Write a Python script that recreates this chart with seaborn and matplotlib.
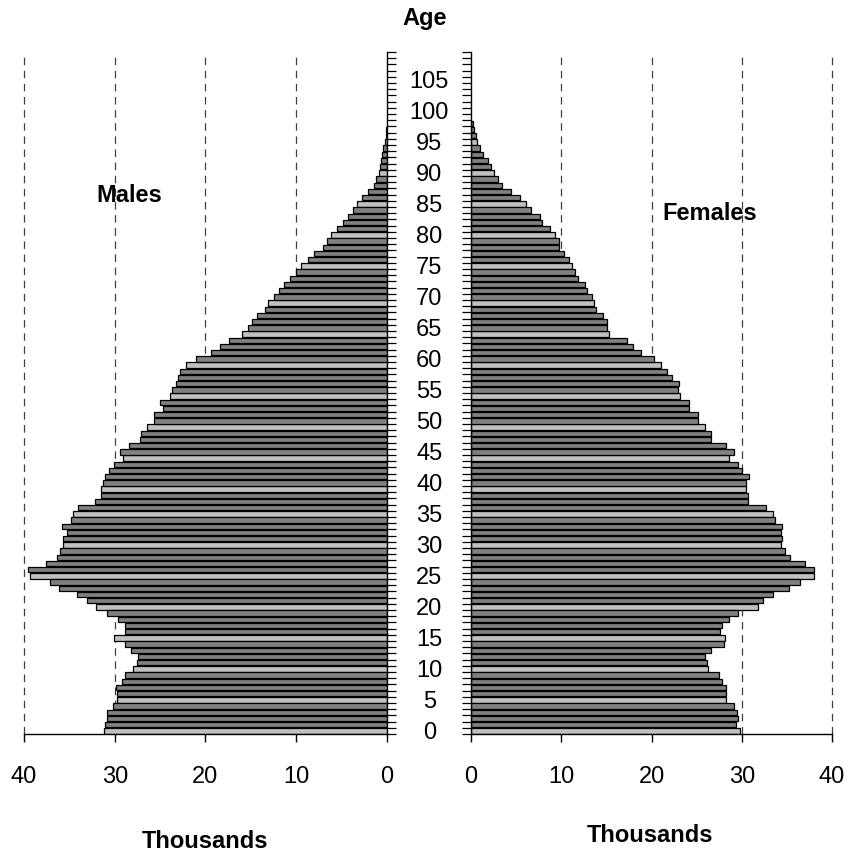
import numpy as np
import pandas as pd
import matplotlib
matplotlib.use("Agg")
import matplotlib.pyplot as plt
import seaborn as sns

# ---------------- data (thousands) ----------------
males = [31.2, 31.1, 30.9, 30.8, 30.2, 29.8, 29.8, 29.9, 29.2, 28.9,
         28.0, 27.6, 27.4, 28.2, 28.9, 30.1, 28.9, 28.9, 29.6, 30.8,
         32.1, 33.1, 34.2, 36.1, 37.1, 39.3, 39.6, 37.6, 36.4, 36.0,
         35.7, 35.7, 35.3, 35.8, 34.8, 34.6, 34.0, 32.2, 31.5, 31.5,
         31.25, 31.1, 30.6, 30.1, 29.1, 29.4, 28.4, 27.2, 27.1, 26.5,
         25.7, 25.7, 24.7, 25.0, 23.9, 23.7, 23.3, 23.0, 22.8, 22.1,
         21.0, 19.4, 18.4, 17.4, 16.0, 15.3, 14.9, 14.3, 13.4, 13.1,
         12.5, 11.9, 11.3, 10.7, 10.0, 9.5, 8.7, 8.0, 7.0, 6.6,
         6.2, 5.5, 4.9, 4.3, 3.7, 3.3, 2.7, 2.1, 1.4, 1.2,
         0.9, 0.8, 0.7, 0.55, 0.4, 0.25, 0.15, 0.1]
females = [29.85, 29.33, 29.63, 29.44, 29.15, 28.3, 28.3, 28.3, 27.82, 27.45,
           26.27, 26.12, 25.97, 26.63, 28.0, 28.15, 27.6, 27.8, 28.6, 29.6,
           31.8, 32.3, 33.5, 35.2, 36.5, 38.05, 38.05, 37.0, 35.35, 34.8,
           34.35, 34.5, 34.35, 34.5, 33.7, 33.5, 32.65, 30.7, 30.7, 30.45,
           30.45, 30.8, 30.0, 29.6, 28.6, 29.15, 28.3, 26.6, 26.6, 25.9,
           25.2, 25.2, 24.2, 24.2, 23.2, 22.9, 23.05, 22.3, 21.7, 21.0,
           20.3, 18.8, 17.9, 17.3, 15.3, 15.1, 15.1, 14.6, 13.8, 13.6,
           13.4, 12.9, 12.6, 11.9, 11.5, 11.2, 10.9, 10.3, 9.8, 9.8,
           9.3, 8.7, 7.9, 7.6, 6.6, 6.1, 5.4, 4.4, 3.4, 3.0,
           2.55, 2.2, 1.9, 1.33, 1.04, 0.7, 0.5, 0.33, 0.2]
light_ages = [0, 5, 10, 15, 20, 25, 30, 35, 39, 44, 49, 54, 59, 64, 69,
              75, 80, 85, 90, 95]
age_ticks = list(range(0, 110, 5))
x_ticks = [0, 10, 20, 30, 40]

ages_m = list(range(len(males)))
ages_f = list(range(len(females)))

df_m = pd.DataFrame({"age": ages_m, "value": males,
                     "shade": ["L" if a in light_ages else "D" for a in ages_m]})
df_f = pd.DataFrame({"age": ages_f, "value": females,
                     "shade": ["L" if a in light_ages else "D" for a in ages_f]})

# ---------------- style ----------------
sns.set_theme(style="white")
plt.rcParams["font.family"] = ["Liberation Sans", "DejaVu Sans"]
plt.rcParams["text.color"] = "black"
pal = {"L": "#C0C0C0", "D": "#808080"}
FS = 17

W = 852.0
fig = plt.figure(figsize=(8.52, 8.52), dpi=100)
ax_l = fig.add_axes([24 / W, 1 - 734 / W, (387 - 24) / W, (734 - 52) / W])
ax_r = fig.add_axes([471 / W, 1 - 734 / W, (832 - 471) / W, (734 - 52) / W])

for ax, df in ((ax_l, df_m), (ax_r, df_f)):
    sns.barplot(data=df, x="value", y="age", hue="shade", palette=pal,
                orient="h", native_scale=True, dodge=False, width=0.85,
                edgecolor="black", linewidth=0.9, saturation=1,
                legend=False, errorbar=None, ax=ax, zorder=2)
    ax.set_xlabel("")
    ax.set_ylabel("")
    ax.set_ylim(-0.5, 109.5)
    for v in (10, 20, 30, 40):
        ax.axvline(v, color="#404040", lw=0.9, ls=(0, (6, 4.5)),
                   zorder=0.5, clip_on=False)
    for s in ax.spines.values():
        s.set_color("black")
        s.set_linewidth(1.0)
    ax.spines["top"].set_visible(False)
    ax.tick_params(axis="x", which="major", bottom=True, length=6, width=1,
                   color="black", direction="out", labelsize=FS, pad=17,
                   labelcolor="black")
    ax.set_yticks(np.arange(-0.5, 110, 1), minor=True)

# left (males)
ax_l.set_xlim(40, 0)
ax_l.set_xticks(x_ticks)
ax_l.spines["left"].set_visible(False)
ax_l.set_yticks([])
ax_l.yaxis.set_ticks_position("right")
ax_l.tick_params(axis="y", which="minor", left=False, right=True, length=6.5,
                 width=0.9, color="black", direction="out")

# right (females)
ax_r.set_xlim(0, 40)
ax_r.set_xticks(x_ticks)
ax_r.spines["right"].set_visible(False)
ax_r.set_yticks(age_ticks)
ax_r.set_yticklabels([str(a) for a in age_ticks])
ax_r.tick_params(axis="y", which="major", left=True, length=0, pad=30,
                 labelsize=FS, labelcolor="black")
ax_r.tick_params(axis="y", which="minor", left=True, right=False, length=6.5,
                 width=0.9, color="black", direction="out")
for lbl in ax_r.get_yticklabels():
    lbl.set_horizontalalignment("center")

# texts
kw = dict(ha="center", va="center", fontsize=FS, fontweight="bold",
          color="black")
fig.text(425 / W, 1 - 18 / W, "Age", **kw)
fig.text(129 / W, 1 - 196 / W, "Males", **kw)
fig.text(710 / W, 1 - 213 / W, "Females", **kw)
fig.text(205 / W, 1 - 842 / W, "Thousands", **kw)
fig.text(650 / W, 1 - 836 / W, "Thousands", **kw)

fig.savefig("out.png", dpi=100, facecolor="white")
